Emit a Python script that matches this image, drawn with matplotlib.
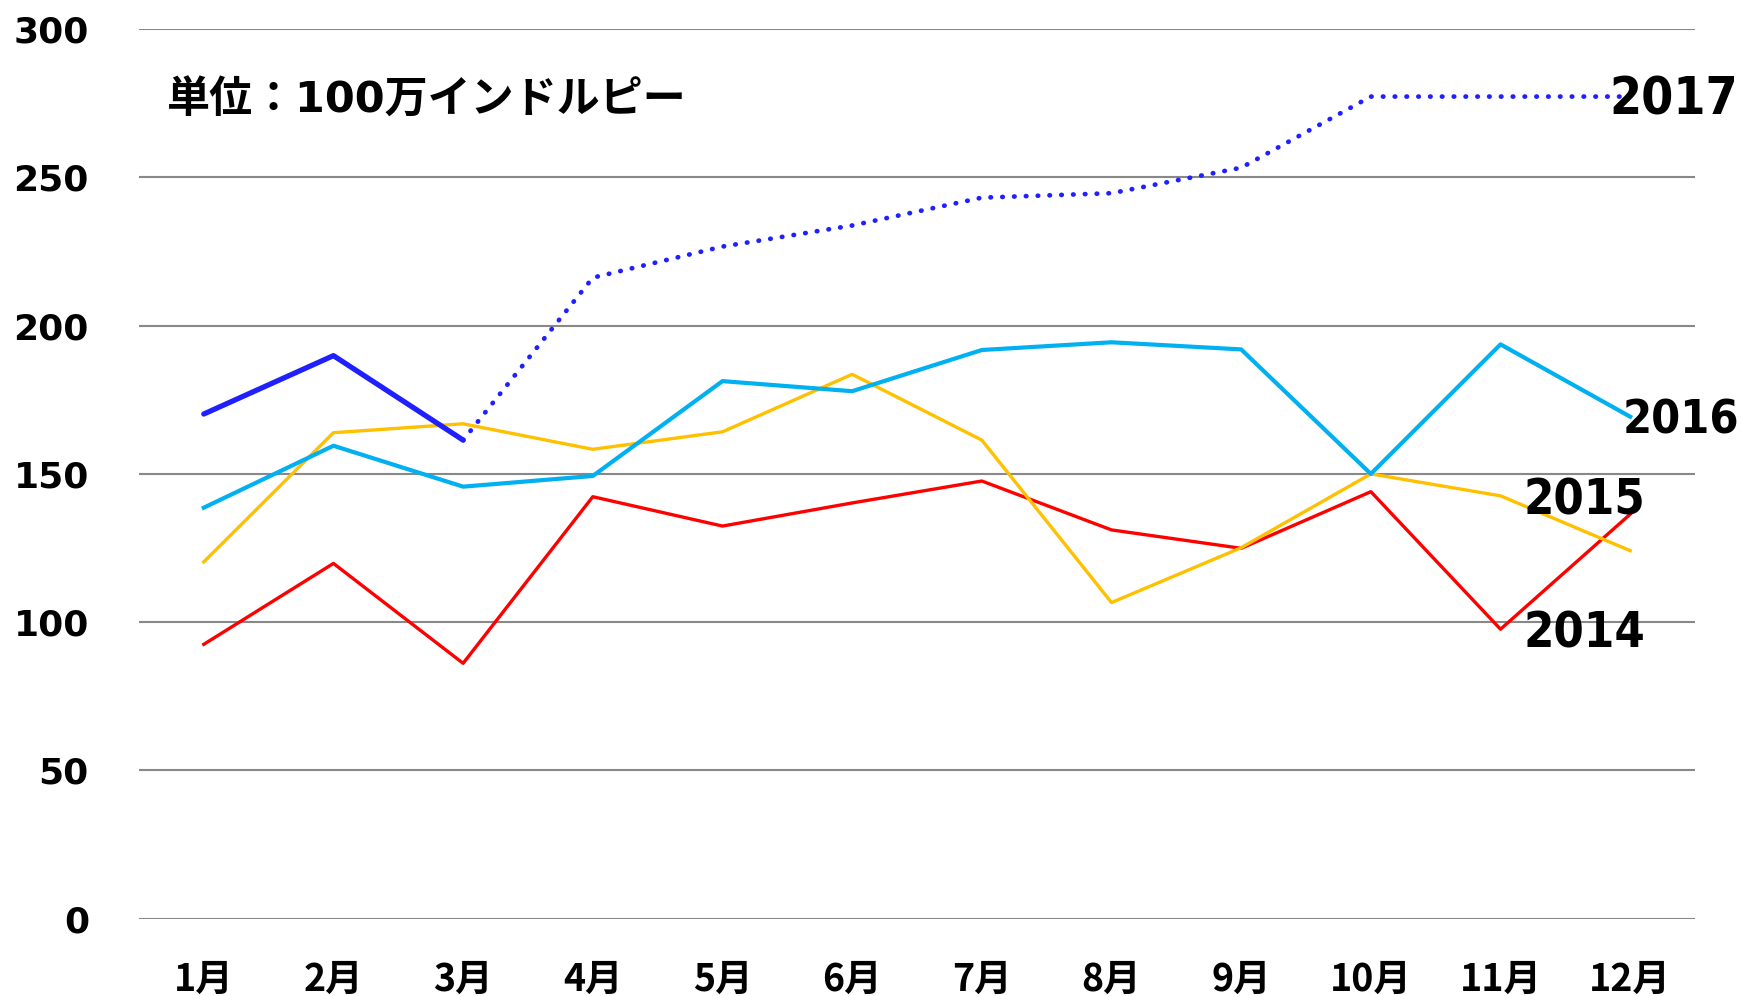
import matplotlib
matplotlib.use("Agg")
import matplotlib.pyplot as plt

plt.rcParams['font.family'] = ['DejaVu Sans', 'Noto Sans CJK JP']
plt.rcParams['font.weight'] = 'bold'

months = ["1月", "2月", "3月", "4月", "5月", "6月", "7月", "8月", "9月", "10月", "11月", "12月"]
y2014 = [92.5, 119.8, 86.1, 142.3, 132.4, 140.2, 147.6, 131.1, 124.9, 144.0, 97.6, 136.4]
y2015 = [120.3, 163.9, 166.9, 158.3, 164.2, 183.6, 161.4, 106.6, 125.1, 150.0, 142.6, 124.1]
y2016 = [138.6, 159.5, 145.7, 149.3, 181.3, 177.9, 191.8, 194.4, 192.0, 150.0, 193.7, 169.3]
y2017_actual = [170.2, 189.9, 161.4]
y2017_forecast = [161.4, 216.2, 226.7, 233.8, 243.2, 244.7, 253.3, 277.3, 277.3, 277.3]
yticks = [0, 50, 100, 150, 200, 250, 300]
unit_label = "単位：100万インドルピー"

fig = plt.figure(figsize=(17.41, 9.96), dpi=100)
ax = fig.add_axes([0.0798, 0.0778, 0.8938, 0.8928])

x = list(range(len(months)))
ax.plot(x, y2014, color='#FF0000', lw=2.4, zorder=3)
ax.plot(x, y2015, color='#FFC000', lw=2.4, zorder=3)
ax.plot(x, y2016, color='#00B0F0', lw=3.0, zorder=3)
ax.plot(x[:3], y2017_actual, color='#1F1FFF', lw=3.8, zorder=4, solid_capstyle='round')
ax.plot(x[2:], y2017_forecast, color='#1F1FFF', lw=3.4, zorder=4,
        linestyle=(0, (0.1, 2.4)), dash_capstyle='round')

ax.set_xlim(-0.5, 11.5)
ax.set_ylim(0, 300)
ax.set_yticks(yticks)
ax.set_xticks(x)
ax.set_xticklabels(months, fontsize=27, fontweight='bold',
                   family=['Noto Sans CJK JP'])
ax.tick_params(axis='y', length=0, pad=36, labelsize=26)
ax.tick_params(axis='x', length=0, pad=30)
for lbl in ax.get_yticklabels():
    lbl.set_fontweight('bold')
ax.grid(axis='y', color='#888888', lw=1.5)
ax.set_axisbelow(True)
for s in ax.spines.values():
    s.set_visible(False)

ax.text(0.018, 0.92, unit_label, transform=ax.transAxes, fontsize=31,
        fontweight='bold', va='center', ha='left',
        family=['DejaVu Sans', 'Noto Sans CJK JP'])

lab = dict(fontweight='bold', va='center', ha='left', zorder=5, fontstretch='condensed')
ax.text(10.84, 276, "2017", fontsize=37, **lab)
ax.text(10.94, 168, "2016", fontsize=33.5, **lab)
ax.text(10.18, 141, "2015", fontsize=35, **lab)
ax.text(10.18, 96.3, "2014", fontsize=35, **lab)

fig.savefig("out.png", dpi=100)
